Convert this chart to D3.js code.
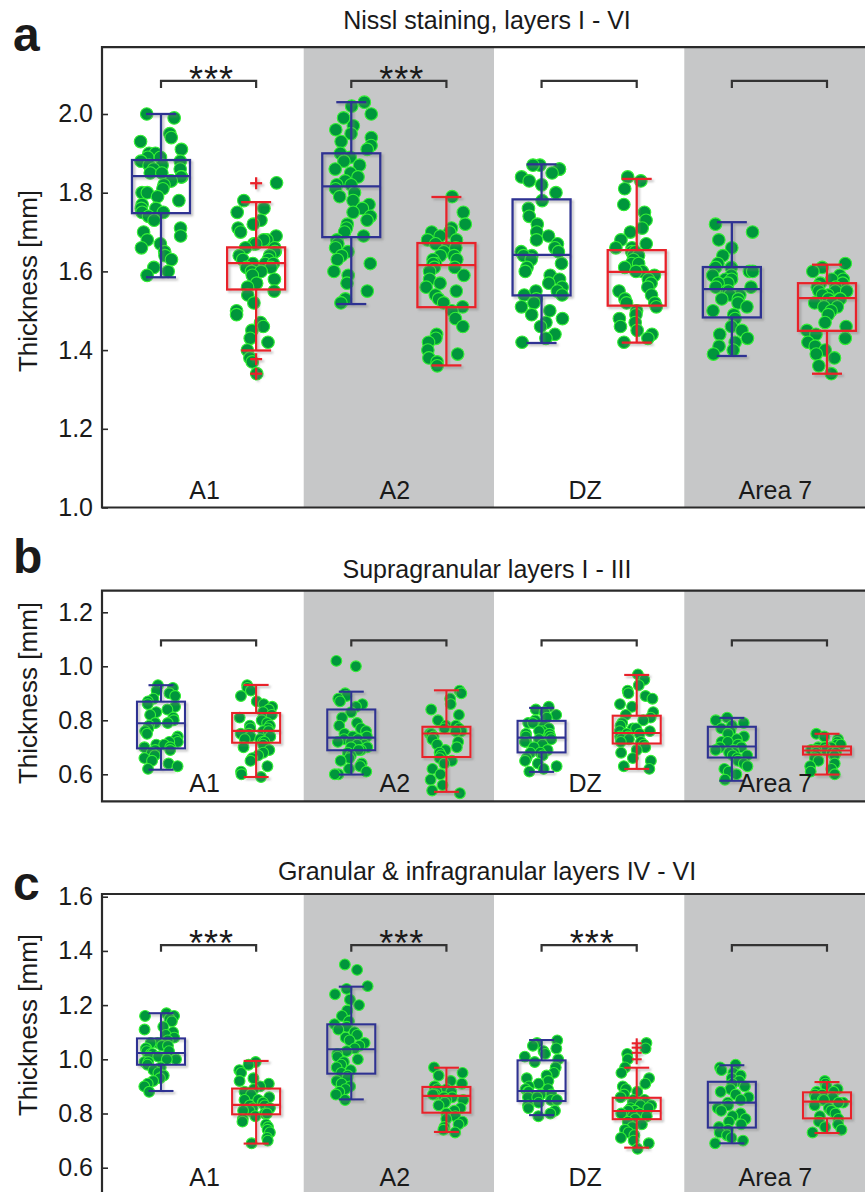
<!DOCTYPE html>
<html><head><meta charset="utf-8">
<script src="https://cdn.jsdelivr.net/npm/d3@7"></script>
<style>
body{margin:0;background:#fff}
svg{display:block}
text{font-family:"Liberation Sans",Arial,sans-serif;fill:#1a1a1a}
</style>
</head><body><svg id="chart" width="865" height="1192"></svg>
<script>
// ---------------- DATA ----------------
const areas = ["A1", "A2", "DZ", "Area 7"];
const panelTitles = ["Nissl staining, layers I - VI", "Supragranular layers I - III", "Granular & infragranular layers IV - VI"];
const panelLetters = ["a", "b", "c"];
const yLabel = "Thickness [mm]";
const ticksA = [1.0, 1.2, 1.4, 1.6, 1.8, 2.0];
const ticksB = [0.6, 0.8, 1.0, 1.2];
const ticksC = [0.6, 0.8, 1.0, 1.2, 1.4, 1.6];

// box statistics per box [lower whisker, Q1, median, Q3, upper whisker]
// order: A1 blue, A1 red, A2 blue, A2 red, DZ blue, DZ red, Area7 blue, Area7 red
const statsA = [
  [1.585, 1.748, 1.842, 1.883, 2.000], [1.399, 1.554, 1.621, 1.661, 1.776],
  [1.517, 1.687, 1.816, 1.900, 2.030], [1.361, 1.509, 1.616, 1.672, 1.789],
  [1.418, 1.539, 1.642, 1.783, 1.872], [1.419, 1.513, 1.599, 1.654, 1.835],
  [1.385, 1.483, 1.555, 1.611, 1.725], [1.340, 1.449, 1.532, 1.570, 1.617]
];
const statsB = [
  [0.617, 0.696, 0.789, 0.869, 0.930], [0.590, 0.717, 0.761, 0.827, 0.931],
  [0.599, 0.689, 0.736, 0.840, 0.906], [0.535, 0.664, 0.751, 0.776, 0.911],
  [0.609, 0.681, 0.736, 0.798, 0.846], [0.620, 0.714, 0.753, 0.817, 0.968],
  [0.576, 0.662, 0.703, 0.776, 0.809], [0.599, 0.673, 0.688, 0.703, 0.750]
];
const statsC = [
  [0.883, 0.980, 1.023, 1.077, 1.170], [0.689, 0.797, 0.832, 0.892, 0.994],
  [0.852, 0.947, 1.037, 1.129, 1.268], [0.732, 0.803, 0.865, 0.898, 0.969],
  [0.794, 0.846, 0.883, 0.996, 1.071], [0.674, 0.779, 0.809, 0.858, 0.969],
  [0.690, 0.748, 0.840, 0.917, 0.978], [0.728, 0.782, 0.844, 0.878, 0.916]
];
// flagged outliers ("+") per box
const outliersA = [[], [1.824, 1.377, 1.34], [], [], [], [], [], []];
const outliersB = [[], [], [], [], [], [], [], []];
const outliersC = [[], [], [], [], [], [1.000, 1.024, 1.043, 1.059], [], []];

// individual measurements per box
const pointsA = [
  [2.00,1.99,1.95,1.94,1.93,1.91,1.90,1.90,1.89,1.89,1.88,1.88,1.87,1.87,1.86,1.86,1.85,1.85,1.84,1.84,1.83,1.83,1.82,1.81,1.80,1.80,1.79,1.78,1.77,1.76,1.76,1.75,1.75,1.74,1.73,1.71,1.70,1.69,1.68,1.67,1.66,1.65,1.64,1.63,1.61,1.60,1.59],
  [1.825,1.78,1.76,1.75,1.73,1.72,1.71,1.70,1.69,1.68,1.68,1.67,1.67,1.66,1.66,1.65,1.65,1.64,1.64,1.63,1.63,1.62,1.62,1.62,1.61,1.61,1.60,1.60,1.59,1.58,1.57,1.56,1.55,1.54,1.52,1.50,1.49,1.47,1.46,1.45,1.43,1.42,1.40,1.38,1.37,1.34],
  [2.03,2.02,2.00,1.99,1.97,1.96,1.95,1.94,1.93,1.92,1.91,1.90,1.89,1.88,1.87,1.86,1.85,1.84,1.83,1.82,1.82,1.81,1.80,1.79,1.78,1.77,1.76,1.75,1.74,1.73,1.72,1.71,1.70,1.69,1.68,1.67,1.66,1.65,1.64,1.63,1.62,1.60,1.59,1.57,1.55,1.53,1.52],
  [1.79,1.75,1.72,1.71,1.70,1.70,1.69,1.68,1.68,1.67,1.66,1.66,1.65,1.64,1.64,1.63,1.63,1.62,1.62,1.61,1.61,1.60,1.59,1.58,1.57,1.56,1.55,1.54,1.53,1.52,1.51,1.50,1.48,1.46,1.44,1.43,1.42,1.40,1.39,1.38,1.37,1.36],
  [1.87,1.87,1.86,1.86,1.85,1.84,1.83,1.82,1.80,1.78,1.76,1.74,1.72,1.70,1.69,1.68,1.67,1.66,1.65,1.65,1.64,1.64,1.63,1.62,1.61,1.60,1.59,1.58,1.57,1.56,1.55,1.55,1.54,1.54,1.53,1.52,1.51,1.50,1.49,1.48,1.47,1.46,1.44,1.43,1.42],
  [1.84,1.83,1.81,1.77,1.75,1.73,1.71,1.70,1.68,1.67,1.66,1.66,1.65,1.65,1.64,1.64,1.63,1.62,1.62,1.61,1.60,1.60,1.59,1.58,1.57,1.56,1.55,1.54,1.53,1.52,1.52,1.51,1.50,1.49,1.48,1.47,1.46,1.45,1.44,1.43,1.42],
  [1.72,1.70,1.68,1.66,1.64,1.62,1.61,1.61,1.60,1.60,1.59,1.59,1.58,1.58,1.57,1.57,1.56,1.56,1.55,1.55,1.54,1.54,1.53,1.53,1.52,1.51,1.50,1.49,1.48,1.46,1.45,1.44,1.43,1.42,1.41,1.40,1.39],
  [1.62,1.61,1.60,1.59,1.58,1.58,1.57,1.57,1.56,1.56,1.55,1.55,1.55,1.54,1.54,1.53,1.53,1.53,1.52,1.52,1.51,1.51,1.50,1.49,1.47,1.46,1.45,1.44,1.43,1.42,1.41,1.40,1.39,1.38,1.36,1.34]
];
const pointsB = [
  [0.93,0.92,0.91,0.90,0.89,0.88,0.87,0.86,0.85,0.84,0.83,0.82,0.81,0.80,0.79,0.79,0.78,0.77,0.76,0.75,0.74,0.73,0.72,0.72,0.71,0.71,0.70,0.70,0.69,0.69,0.68,0.67,0.66,0.65,0.64,0.63,0.62],
  [0.93,0.92,0.91,0.89,0.87,0.86,0.85,0.84,0.83,0.82,0.81,0.80,0.79,0.78,0.78,0.77,0.77,0.76,0.76,0.75,0.75,0.74,0.74,0.73,0.73,0.72,0.72,0.71,0.70,0.69,0.68,0.67,0.66,0.65,0.63,0.61,0.60,0.59],
  [1.02,1.00,0.90,0.89,0.88,0.87,0.86,0.85,0.83,0.81,0.79,0.78,0.77,0.76,0.75,0.74,0.74,0.73,0.73,0.72,0.72,0.71,0.71,0.70,0.70,0.69,0.69,0.68,0.67,0.66,0.65,0.64,0.63,0.62,0.61,0.60,0.60],
  [0.91,0.90,0.88,0.86,0.84,0.82,0.80,0.78,0.78,0.77,0.77,0.76,0.76,0.75,0.75,0.74,0.73,0.72,0.71,0.70,0.69,0.68,0.67,0.66,0.65,0.64,0.62,0.60,0.58,0.56,0.54,0.53],
  [0.85,0.84,0.83,0.82,0.81,0.80,0.79,0.79,0.78,0.77,0.76,0.76,0.75,0.75,0.74,0.74,0.73,0.73,0.72,0.72,0.71,0.70,0.69,0.68,0.68,0.67,0.66,0.65,0.64,0.63,0.62,0.61],
  [0.97,0.95,0.93,0.91,0.90,0.89,0.88,0.86,0.85,0.83,0.82,0.81,0.80,0.79,0.78,0.77,0.77,0.76,0.76,0.75,0.75,0.74,0.74,0.73,0.73,0.72,0.72,0.71,0.70,0.69,0.68,0.66,0.65,0.63,0.62],
  [0.81,0.80,0.79,0.78,0.77,0.76,0.75,0.74,0.73,0.72,0.72,0.71,0.71,0.70,0.70,0.69,0.69,0.68,0.68,0.67,0.67,0.66,0.65,0.64,0.63,0.62,0.61,0.60,0.58],
  [0.75,0.74,0.73,0.72,0.71,0.71,0.70,0.70,0.70,0.69,0.69,0.69,0.68,0.68,0.68,0.67,0.67,0.66,0.65,0.64,0.63,0.62,0.61,0.60]
];
const pointsC = [
  [1.17,1.16,1.16,1.15,1.14,1.12,1.11,1.10,1.09,1.08,1.07,1.06,1.06,1.05,1.05,1.04,1.04,1.03,1.03,1.02,1.02,1.01,1.01,1.00,1.00,0.99,0.99,0.98,0.97,0.96,0.95,0.94,0.93,0.92,0.91,0.90,0.88],
  [0.99,0.98,0.96,0.95,0.93,0.92,0.91,0.90,0.89,0.88,0.87,0.86,0.85,0.85,0.84,0.84,0.83,0.83,0.82,0.82,0.81,0.81,0.80,0.80,0.79,0.78,0.77,0.76,0.75,0.74,0.73,0.71,0.70,0.69],
  [1.35,1.33,1.27,1.26,1.24,1.22,1.20,1.18,1.16,1.14,1.13,1.12,1.11,1.10,1.09,1.08,1.07,1.06,1.05,1.04,1.03,1.02,1.01,1.00,0.99,0.98,0.97,0.96,0.95,0.94,0.93,0.92,0.91,0.90,0.89,0.88,0.87,0.85],
  [0.97,0.95,0.94,0.92,0.91,0.90,0.90,0.89,0.89,0.88,0.88,0.87,0.87,0.86,0.86,0.85,0.85,0.84,0.83,0.82,0.81,0.80,0.79,0.78,0.77,0.76,0.75,0.74,0.73],
  [1.07,1.06,1.05,1.04,1.03,1.02,1.01,1.00,0.99,0.97,0.95,0.94,0.93,0.92,0.91,0.90,0.89,0.89,0.88,0.88,0.87,0.87,0.86,0.86,0.85,0.85,0.84,0.83,0.82,0.81,0.80,0.79],
  [1.06,1.04,1.02,1.00,0.97,0.95,0.93,0.91,0.90,0.89,0.88,0.87,0.86,0.85,0.85,0.84,0.84,0.83,0.83,0.82,0.82,0.81,0.81,0.81,0.80,0.80,0.79,0.79,0.78,0.78,0.77,0.76,0.75,0.74,0.73,0.72,0.71,0.70,0.69,0.67],
  [0.98,0.97,0.96,0.95,0.94,0.93,0.92,0.91,0.90,0.89,0.88,0.87,0.86,0.85,0.84,0.83,0.82,0.81,0.80,0.79,0.78,0.77,0.76,0.75,0.74,0.73,0.72,0.71,0.70,0.69],
  [0.92,0.91,0.90,0.89,0.88,0.88,0.87,0.87,0.86,0.86,0.85,0.85,0.84,0.84,0.83,0.82,0.81,0.80,0.79,0.78,0.77,0.76,0.75,0.74,0.73]
];
// significance labels per area and bracket level (in data units)
const sigA = ["***", "***", "", ""];
const sigB = ["", "", "", ""];
const sigC = ["***", "***", "***", ""];
const bracketLevels = [2.084, 1.096, 1.421];

// ---------------- LAYOUT ----------------
const svg = d3.select("#chart");
const colBlue = "#2e3192", colRed = "#e8202a";
const bandGray = "#c6c7c8", axisCol = "#2a2a2a";
const plotLeft = 102, plotRight = 880;

const defs = svg.append("defs");
const f = defs.append("filter").attr("id", "shadow").attr("x", "-20%").attr("y", "-20%").attr("width", "140%").attr("height", "140%");
f.append("feDropShadow").attr("dx", 2).attr("dy", 2).attr("stdDeviation", 1.2).attr("flood-color", "#777").attr("flood-opacity", 0.45);

const slots = areas.flatMap(a => [a + "|1", a + "|2"]);
const x = d3.scalePoint().domain(slots).range([161, 827]);
const step = x.step();

const panels = [
  {stats: statsA, pts: pointsA, out: outliersA, sig: sigA, ticks: ticksA, domain: [1.0, 2.17], range: [507.5, 47.1],
   boxW: 58, capW: 30, r: 6.3, jit: 21, stroke: 2.3, titleY: 29, letterY: 51, ylabY: 281, plus: 6, leg: 7},
  {stats: statsB, pts: pointsB, out: outliersB, sig: sigB, ticks: ticksB, domain: [0.5, 1.28], range: [801.3, 590.7],
   boxW: 48, capW: 25, r: 5.4, jit: 17, stroke: 2.1, titleY: 578, letterY: 573, ylabY: 693, plus: 5, leg: 6},
  {stats: statsC, pts: pointsC, out: outliersC, sig: sigC, ticks: ticksC, domain: [0.5, 1.61], range: [1194.8, 894],
   boxW: 48, capW: 25, r: 5.4, jit: 17, stroke: 2.1, titleY: 880, letterY: 900, ylabY: 1025, plus: 5, leg: 6.5}
];

panels.forEach((p, pi) => {
  const y = d3.scaleLinear().domain(p.domain).range(p.range);
  const top = p.range[1], bottom = p.range[0];
  const g = svg.append("g");

  const clipId = "clip" + pi;
  defs.append("clipPath").attr("id", clipId).append("rect")
    .attr("x", plotLeft).attr("y", top).attr("width", plotRight - plotLeft).attr("height", bottom - top);
  const inner = g.append("g").attr("clip-path", `url(#${clipId})`);

  // gray bands for A2 and Area 7
  areas.forEach((a, ai) => {
    if (ai % 2 === 1) {
      const x0 = x(a + "|1") - step / 2;
      inner.append("rect").attr("x", x0).attr("y", top).attr("width", step * 2).attr("height", bottom - top)
        .attr("fill", bandGray);
    }
  });

  // points (jittered horizontally)
  p.pts.forEach((vals, bi) => {
    const rng = d3.randomLcg(0.137 + pi * 0.21 + bi * 0.053);
    const jitter = d3.randomUniform.source(rng)(-p.jit, p.jit);
    const cx = x(slots[bi]);
    inner.append("g").selectAll("circle").data(vals).join("circle")
      .attr("cx", () => cx + jitter())
      .attr("cy", d => y(d))
      .attr("r", p.r)
      .attr("fill", "#00963c")
      .attr("stroke", "#34f034")
      .attr("stroke-width", 1.1);
  });

  // boxes
  p.stats.forEach((s, bi) => {
    const [lo, q1, med, q3, hi] = s;
    const cx = x(slots[bi]);
    const col = bi % 2 === 0 ? colBlue : colRed;
    const bg = inner.append("g").attr("stroke", col).attr("stroke-width", p.stroke).attr("fill", "none")
      .attr("filter", "url(#shadow)");
    bg.append("line").attr("x1", cx).attr("x2", cx).attr("y1", y(hi)).attr("y2", y(q3));
    bg.append("line").attr("x1", cx).attr("x2", cx).attr("y1", y(q1)).attr("y2", y(lo));
    bg.append("line").attr("x1", cx - p.capW / 2).attr("x2", cx + p.capW / 2).attr("y1", y(hi)).attr("y2", y(hi));
    bg.append("line").attr("x1", cx - p.capW / 2).attr("x2", cx + p.capW / 2).attr("y1", y(lo)).attr("y2", y(lo));
    bg.append("rect").attr("x", cx - p.boxW / 2).attr("width", p.boxW).attr("y", y(q3)).attr("height", y(q1) - y(q3));
    bg.append("line").attr("x1", cx - p.boxW / 2).attr("x2", cx + p.boxW / 2).attr("y1", y(med)).attr("y2", y(med));
    p.out[bi].forEach(o => {
      bg.append("line").attr("x1", cx - p.plus).attr("x2", cx + p.plus).attr("y1", y(o)).attr("y2", y(o));
      bg.append("line").attr("x1", cx).attr("x2", cx).attr("y1", y(o) - p.plus).attr("y2", y(o) + p.plus);
    });
  });

  // significance brackets and area labels
  areas.forEach((a, ai) => {
    const x1 = x(a + "|1"), x2 = x(a + "|2");
    const yb = y(bracketLevels[pi]);
    g.append("path").attr("d", `M${x1},${yb + p.leg}V${yb}H${x2}V${yb + p.leg}`)
      .attr("fill", "none").attr("stroke", "#333").attr("stroke-width", 2.2);
    if (p.sig[ai]) {
      g.append("text").attr("x", (x1 + x2) / 2 + 3).attr("y", yb + 11).attr("text-anchor", "middle")
        .attr("font-size", 36).attr("letter-spacing", 1).attr("fill", "#222").text(p.sig[ai]);
    }
    g.append("text").attr("x", (x1 + x2) / 2 - 4).attr("y", bottom - 9).attr("text-anchor", "middle")
      .attr("font-size", 25).text(a);
  });

  // axes frame
  g.append("path").attr("d", `M${plotRight},${top}H${plotLeft}V${bottom}H${plotRight}`)
    .attr("fill", "none").attr("stroke", axisCol).attr("stroke-width", 2.2);

  // y axis
  const ax = d3.axisLeft(y).tickValues(p.ticks).tickFormat(d3.format(".1f")).tickSizeInner(-6).tickSizeOuter(0).tickPadding(9);
  const axg = g.append("g").attr("transform", `translate(${plotLeft},0)`).call(ax);
  axg.select(".domain").remove();
  axg.selectAll(".tick line").attr("stroke", axisCol).attr("stroke-width", 1.6);
  axg.selectAll(".tick text").attr("font-size", 25).attr("font-family", '"Liberation Sans",Arial,sans-serif').attr("fill", "#1a1a1a");

  // y label
  g.append("text").attr("transform", `translate(37,${p.ylabY}) rotate(-90)`).attr("text-anchor", "middle")
    .attr("font-size", 26).text(yLabel);

  // title
  g.append("text").attr("x", 487).attr("y", p.titleY).attr("text-anchor", "middle").attr("font-size", 25)
    .text(panelTitles[pi]);

  // panel letter
  g.append("text").attr("x", 13).attr("y", p.letterY).attr("font-size", 48).attr("font-weight", "bold")
    .attr("fill", "#111").text(panelLetters[pi]);
});
</script></body></html>
